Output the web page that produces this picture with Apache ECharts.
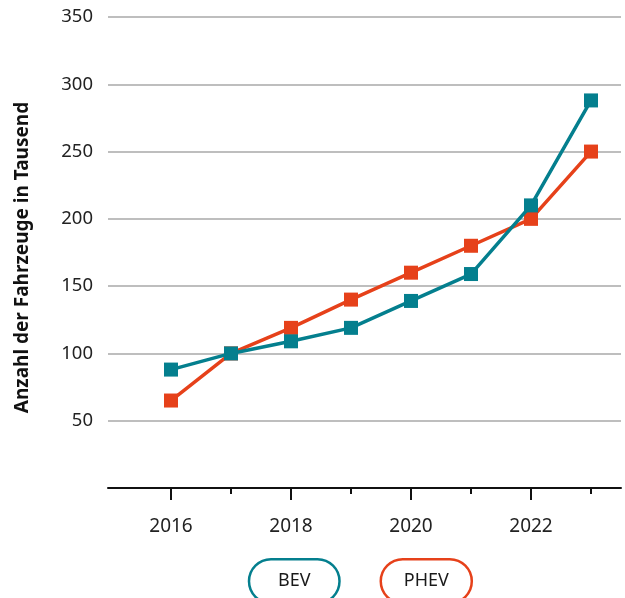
<!DOCTYPE html>
<html><head><meta charset="utf-8">
<script src="https://cdn.jsdelivr.net/npm/echarts@6/dist/echarts.min.js"></script>
<style>html,body{margin:0;padding:0;background:#fff}#c{width:625px;height:598px}</style>
</head><body><div id="c"></div>
<script>
const years = [2016, 2017, 2018, 2019, 2020, 2021, 2022, 2023];
const bev = [88, 100, 109, 119, 139, 159, 210, 288];
const phev = [65, 100, 119, 140, 160, 180, 200, 250];
const majorYears = [2016, 2018, 2020, 2022];
const minorYears = [2017, 2019, 2021, 2023];
const yTicks = [50, 100, 150, 200, 250, 300, 350];
const TEAL = '#047f8e', ORANGE = '#e6411a';
const FONT = 'Noto Sans';
const chart = echarts.init(document.getElementById('c'));
chart.setOption({
  animation: false,
  textStyle: {fontFamily: FONT},
  grid: {left: 108, right: 4, top: 17, bottom: 110},
  legend: {
    top: 553, left: 239, icon: 'none', itemWidth: 0, itemGap: 35,
    selectedMode: false,
    data: [
      {name: 'BEV', textStyle: {borderColor: TEAL, padding: [13, 29]}},
      {name: 'PHEV', textStyle: {borderColor: ORANGE, padding: [13, 23]}}
    ],
    textStyle: {fontSize: 18, color: '#1a1a1a', borderWidth: 2.5, borderRadius: 24, padding: [13, 24], fontFamily: FONT}
  },
  xAxis: [{
    type: 'value', min: 2014.95, max: 2023.5,
    axisLine: {show: true, onZero: false, lineStyle: {color: '#111', width: 2}},
    axisTick: {show: true, customValues: majorYears, length: 12, lineStyle: {color: '#111', width: 2}},
    axisLabel: {customValues: majorYears, fontSize: 19, color: '#222', margin: 29, formatter: v => String(v)},
    splitLine: {show: false}
  }, {
    type: 'value', min: 2014.95, max: 2023.5, position: 'bottom',
    axisLine: {show: false},
    axisTick: {show: true, customValues: minorYears, length: 6, lineStyle: {color: '#111', width: 2}},
    axisLabel: {show: false}, splitLine: {show: false}
  }],
  yAxis: {
    type: 'value', min: 0, max: 350, interval: 50,
    name: 'Anzahl der Fahrzeuge in Tausend', nameLocation: 'middle', nameGap: 76, nameRotate: 90,
    nameTextStyle: {fontSize: 19, fontWeight: 'bold', color: '#111', padding: [0, 10, 0, 0]},
    axisLine: {show: false}, axisTick: {show: false},
    axisLabel: {fontSize: 18.5, color: '#222', margin: 15, formatter: v => yTicks.includes(v) ? String(v) : ''},
    splitLine: {lineStyle: {color: '#a8a8a8', width: 1.5}}
  },
  series: [
    {name: 'BEV', type: 'line', data: years.map((y, i) => [y, bev[i]]), color: TEAL,
     symbol: 'rect', symbolSize: 14, lineStyle: {width: 3.5}, itemStyle: {color: TEAL}, z: 3},
    {name: 'PHEV', type: 'line', data: years.map((y, i) => [y, phev[i]]), color: ORANGE,
     symbol: 'rect', symbolSize: 14, lineStyle: {width: 3.5}, itemStyle: {color: ORANGE}, z: 2}
  ]
});
</script></body></html>
